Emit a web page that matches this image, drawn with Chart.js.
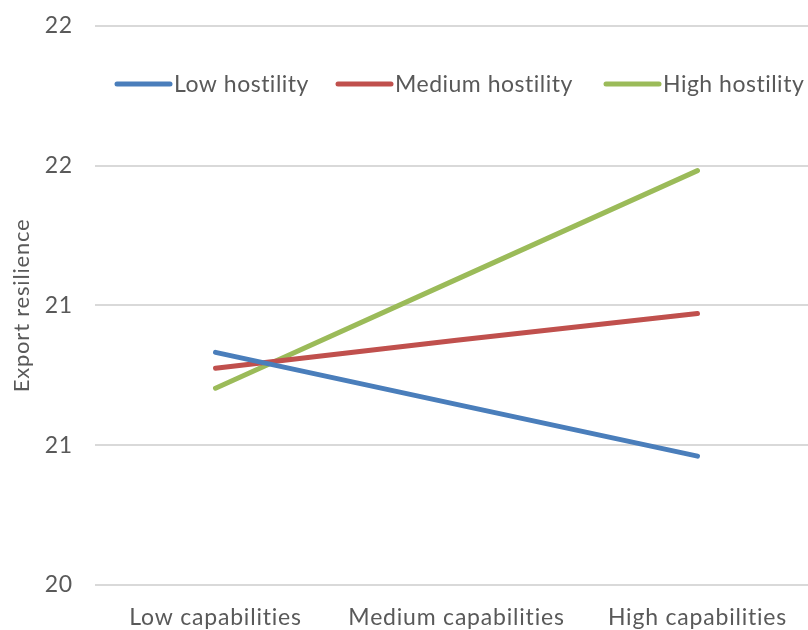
<!DOCTYPE html>
<html>
<head>
<meta charset="utf-8">
<script src="https://cdn.jsdelivr.net/npm/chart.js@4"></script>
<style>
  html, body { margin: 0; padding: 0; background: #fff; overflow: hidden; }
  #wrap { width: 808px; height: 630px; overflow: hidden; }
  #box { width: 830px; height: 640px; margin-top: -10px; }
</style>
</head>
<body>
<div id="wrap"><div id="box"><canvas id="c" width="830" height="640"></canvas></div></div>
<script>
const categories = ['Low capabilities', 'Medium capabilities', 'High capabilities'];
const lowHostility = [20.832, 20.646, 20.461];
const mediumHostility = [20.775, 20.875, 20.971];
const highHostility = [20.704, 21.093, 21.482];
const seriesNames = ['Low hostility', 'Medium hostility', 'High hostility'];
const yTickLabels = ['20', '21', '21', '22', '22'];

const FONT = 'Lato, "Open Sans", sans-serif';
const TEXT = '#595959';

// Slightly open letter spacing for all canvas text
const spacing = {
  id: 'spacing',
  beforeDraw(chart) { chart.ctx.letterSpacing = '0.8px'; }
};

// Legend drawn inside the plot area, one horizontal row of line swatches
const innerLegend = {
  id: 'innerLegend',
  afterDraw(chart) {
    const ctx = chart.ctx;
    const y = 94;
    const starts = [117, 338, 606];
    ctx.save();
    ctx.font = '23px ' + FONT;
    ctx.letterSpacing = '0.5px';
    ctx.textBaseline = 'middle';
    chart.data.datasets.forEach((ds, i) => {
      const x = starts[i];
      ctx.strokeStyle = ds.borderColor;
      ctx.lineWidth = 5;
      ctx.lineCap = 'round';
      ctx.beginPath();
      ctx.moveTo(x, y);
      ctx.lineTo(x + 53, y);
      ctx.stroke();
      ctx.fillStyle = TEXT;
      ctx.fillText(ds.label, x + 57, y + 1);
    });
    ctx.restore();
  }
};

const mk = (label, data, color) => ({
  label, data,
  borderColor: color,
  backgroundColor: color,
  borderWidth: 5,
  borderCapStyle: 'round',
  borderJoinStyle: 'round',
  pointRadius: 0,
  tension: 0,
  fill: false
});

new Chart(document.getElementById('c'), {
  type: 'line',
  data: {
    labels: categories,
    datasets: [
      mk(seriesNames[0], lowHostility, '#4A7EBB'),
      mk(seriesNames[1], mediumHostility, '#C0504D'),
      mk(seriesNames[2], highHostility, '#9BBB59')
    ]
  },
  options: {
    responsive: false,
    animation: false,
    layout: { padding: { top: 14, right: 12, left: 0, bottom: 0 } },
    plugins: { legend: { display: false }, tooltip: { enabled: false } },
    scales: {
      x: {
        offset: true,
        grid: { display: false, drawTicks: false },
        border: { display: false },
        ticks: { color: TEXT, font: { family: FONT, size: 23 }, padding: 19, maxRotation: 0 },
        afterFit: s => { s.height = 45; }
      },
      y: {
        min: 20, max: 22,
        grid: { color: '#D9D9D9', lineWidth: 2, drawTicks: false },
        border: { display: false },
        ticks: {
          stepSize: 0.5,
          color: TEXT,
          font: { family: FONT, size: 23 },
          padding: 22,
          callback: (v, i) => yTickLabels[i]
        },
        title: {
          display: true,
          text: 'Export resilience',
          color: TEXT,
          font: { family: FONT, size: 22 },
          padding: { top: 9, bottom: 0 }
        },
        afterFit: s => { s.width = 95; }
      }
    }
  },
  plugins: [spacing, innerLegend]
});
</script>
</body>
</html>
